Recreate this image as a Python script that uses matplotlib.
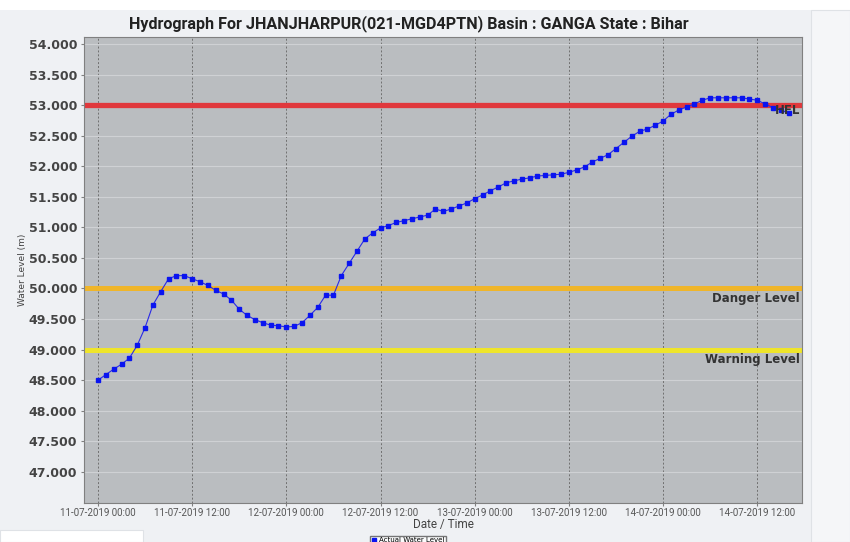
import matplotlib
matplotlib.use("Agg")
import matplotlib.pyplot as plt
import matplotlib.dates as mdates
from matplotlib.patches import Rectangle
import pandas as pd

# ---- data ----
start_time = "2019-07-11 00:00"
water_level = [
    48.50, 48.59, 48.68, 48.76, 48.86, 49.07, 49.36, 49.73, 49.95, 50.16,
    50.21, 50.21, 50.16, 50.11, 50.05, 49.97, 49.91, 49.81, 49.66, 49.56,
    49.49, 49.44, 49.40, 49.39, 49.37, 49.38, 49.44, 49.56, 49.69, 49.89,
    49.89, 50.21, 50.41, 50.61, 50.81, 50.91, 50.99, 51.03, 51.08, 51.11,
    51.14, 51.17, 51.20, 51.30, 51.26, 51.30, 51.35, 51.40, 51.47, 51.53,
    51.60, 51.66, 51.73, 51.76, 51.79, 51.81, 51.84, 51.85, 51.86, 51.87,
    51.90, 51.94, 51.99, 52.07, 52.13, 52.19, 52.29, 52.39, 52.49, 52.57,
    52.61, 52.67, 52.74, 52.85, 52.92, 52.97, 53.02, 53.08, 53.12, 53.12,
    53.12, 53.12, 53.12, 53.10, 53.08, 53.02, 52.96, 52.92, 52.87,
]
times = pd.date_range(start_time, periods=len(water_level), freq="h")

hfl_level = 53.0
danger_level = 50.0
warning_level = 49.0
level_labels = ["HFL", "Danger Level", "Warning Level"]

title = "Hydrograph For JHANJHARPUR(021-MGD4PTN) Basin : GANGA State : Bihar"
y_ticks = [47.0 + 0.5 * i for i in range(15)]

# ---- figure ----
W, H = 850, 542
fig = plt.figure(figsize=(W / 100, H / 100), dpi=100)
fig.patch.set_facecolor("#eff1f4")

fig.patches.append(Rectangle((0, 1 - 10 / H), 1, 10 / H, transform=fig.transFigure,
                             facecolor="white", edgecolor="none", zorder=0))
fig.patches.append(Rectangle((811 / W, 0), 1 - 811 / W, 1 - 10 / H, transform=fig.transFigure,
                             facecolor="#f5f6f8", edgecolor="#dfe2e6", linewidth=0.8, zorder=0))
fig.patches.append(Rectangle((0, 0), 143 / W, 12 / H, transform=fig.transFigure,
                             facecolor="white", edgecolor="#dfe2e6", linewidth=0.8, zorder=0))

ax = fig.add_axes([84 / W, 1 - 503 / H, 718 / W, 466 / H])
ax.set_facecolor("#babdc0")

t0 = pd.Timestamp(start_time)
ax.set_xlim(t0 - pd.Timedelta(hours=1.78), t0 + pd.Timedelta(hours=89.7))
ax.set_ylim(46.49, 54.115)

ax.set_yticks(y_ticks)
ax.yaxis.set_major_formatter(matplotlib.ticker.FormatStrFormatter("%.3f"))
ax.xaxis.set_major_locator(mdates.HourLocator(byhour=[0, 12]))
ax.xaxis.set_major_formatter(mdates.DateFormatter("%d-%m-%Y %H:%M"))
ax.grid(axis="y", color="#cfd1d4", linewidth=0.8, linestyle="-")
ax.grid(axis="x", color="#707070", linewidth=0.7, linestyle=(0, (2, 2)))
ax.set_axisbelow(True)

ax.axhline(hfl_level, color="#e0383c", linewidth=3.8, zorder=2)
ax.axhline(danger_level, color="#efb52a", linewidth=3.6, zorder=2)
ax.axhline(warning_level, color="#efe52a", linewidth=3.6, zorder=2)

ax.plot(times, water_level, color="#2a2ae6", linewidth=0.8, marker="s",
        markersize=3.4, markerfacecolor="#0a14f0", markeredgecolor="#0a14f0",
        label="Actual Water Level", zorder=3)

tf = ax.get_yaxis_transform()
ax.text(0.997, 52.92, level_labels[0], transform=tf, ha="right", va="center",
        fontsize=8.5, fontweight="bold", color="#333333", zorder=5)
ax.text(0.997, 49.84, level_labels[1], transform=tf, ha="right", va="center",
        fontsize=8.5, fontweight="bold", color="#333333", zorder=5)
ax.text(0.997, 48.84, level_labels[2], transform=tf, ha="right", va="center",
        fontsize=8.5, fontweight="bold", color="#333333", zorder=5)

for s in ax.spines.values():
    s.set_color("#808080")
    s.set_linewidth(0.8)

ax.tick_params(axis="y", labelsize=9, labelcolor="#444444", length=2, color="#808080", pad=3)
for lab in ax.get_yticklabels():
    lab.set_fontweight("bold")
ax.tick_params(axis="x", labelsize=7, labelcolor="#555555", length=2, color="#808080", pad=1.5)
for lab in ax.get_xticklabels():
    lab.set_family("Roboto")

ax.set_xlabel("Date / Time", fontsize=8.5, color="#444444", family="Roboto", labelpad=0)
ax.set_ylabel("Water Level (m)", fontsize=6.5, color="#444444", labelpad=1)

fig.text(409 / W, 1 - 24 / H, title, ha="center", va="center", fontsize=11.6,
         fontweight="bold", color="#222222", family="Roboto")

leg = fig.legend(loc="lower center", bbox_to_anchor=(408 / W, -0.004),
                 fontsize=5, frameon=True, fancybox=False, edgecolor="#555555",
                 handlelength=0.8, handletextpad=0.4, borderpad=0.15,
                 borderaxespad=0.0, markerscale=0.8)
leg.get_frame().set_facecolor("white")
for h in leg.legend_handles:
    h.set_linestyle("none")

fig.savefig("out.png", dpi=100, facecolor=fig.get_facecolor())
